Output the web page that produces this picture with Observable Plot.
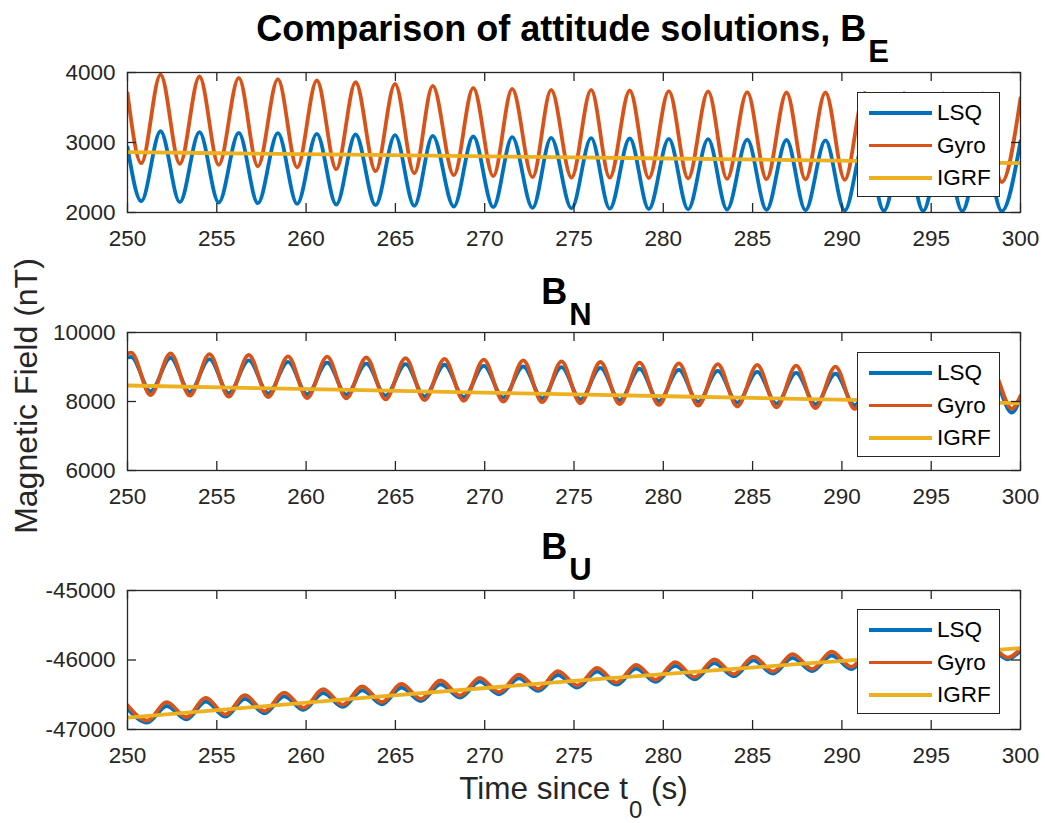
<!DOCTYPE html>
<html>
<head>
<meta charset="utf-8">
<script src="https://cdn.jsdelivr.net/npm/d3@7"></script>
<script src="https://cdn.jsdelivr.net/npm/@observablehq/plot@0.6"></script>
<style>
  html, body { margin: 0; padding: 0; background: #fff; }
  #root { position: relative; width: 1045px; height: 823px; background: #fff; overflow: hidden;
          font-family: "Liberation Sans", Arial, Helvetica, sans-serif; color: #262626; }
  .title { position: absolute; width: 893px; text-align: center; font-weight: bold;
           font-size: 36px; line-height: 36px; color: #000; white-space: nowrap; }
  .title .sub { font-size: 31px; position: relative; top: 21px; margin-left: 2px; }
  .legend { position: absolute; width: 141px; height: 103px; background: #fff; border: 1.3px solid #262626; }
  .legend .sw { position: absolute; left: 11px; width: 63px; height: 3.8px; }
  .legend .lb { position: absolute; left: 79px; font-size: 22.5px; line-height: 26px; height: 26px; color: #000; white-space: nowrap; }
</style>
</head>
<body>
<div id="root"></div>
<script>
// ---------------- data ----------------
const xTicks = [250, 255, 260, 265, 270, 275, 280, 285, 290, 295, 300];
const seriesNames = ["LSQ", "Gyro", "IGRF"];
const seriesColors = ["#0072BD", "#D95319", "#EDB120"];

// Panel B_E : times of start, extrema and end (s)
const beTime = [250, 250.77, 251.85, 252.93, 254.03, 255.11, 256.23, 257.30, 258.42, 259.50, 260.60,
  261.69, 262.77, 263.89, 264.98, 266.06, 267.09, 268.27, 269.36, 270.48, 271.54, 272.68, 273.72,
  274.86, 275.96, 277.00, 278.12, 279.19, 280.31, 281.39, 282.51, 283.57, 284.70, 285.78, 286.90,
  287.96, 289.08, 290.16, 291.27, 292.35, 293.48, 294.55, 295.67, 296.74, 297.87, 298.95, 300];
const beLSQ = [2933, 2161, 3161, 2147, 3147, 2143, 3138, 2133, 3133, 2124, 3124, 2114, 3114, 2104, 3104,
  2096, 3096, 2086, 3086, 2076, 3076, 2067, 3067, 2060, 3062, 2055, 3057, 2050, 3052, 2046, 3047, 2042,
  3040, 2038, 3036, 2034, 3030, 2030, 3025, 2027, 3020, 2024, 3015, 2021, 3010, 2020, 3020];
const beGyro = [3704, 2704, 3971, 2696, 3943, 2681, 3924, 2661, 3904, 2643, 3886, 2619, 3861, 2590, 3838,
  2561, 3810, 2533, 3781, 2519, 3767, 2504, 3752, 2500, 3752, 2497, 3743, 2493, 3733, 2486, 3729, 2481,
  3719, 2476, 3714, 2471, 3714, 2467, 3710, 2460, 3705, 2455, 3700, 2450, 3700, 2435, 3634];
const beIgrfTime = [250, 262.5, 275, 287.5, 300];
const beIgrf = [2862, 2826, 2788, 2748, 2705];
const beTicks = [2000, 3000, 4000];

// Panel B_N
const bnTime = [250, 250.21, 251.29, 252.41, 253.49, 254.59, 255.67, 256.79, 257.88, 258.99, 260.06,
  261.18, 262.25, 263.37, 264.45, 265.57, 266.63, 267.75, 268.83, 269.95, 271.04, 272.16, 273.22,
  274.30, 275.36, 276.48, 277.56, 278.67, 279.75, 280.87, 281.95, 283.05, 284.14, 285.26, 286.34,
  287.44, 288.52, 289.64, 290.71, 291.83, 292.89, 294.01, 295.07, 296.19, 297.26, 298.38, 299.52, 300];
const bnLSQ = [9280, 9290, 8295, 9268, 8275, 9230, 8245, 9190, 8235, 9150, 8210, 9125, 8200, 9095, 8170,
  9085, 8150, 9065, 8130, 9035, 8110, 9015, 8090, 8995, 8060, 8975, 8035, 8950, 8010, 8915, 7990, 8885,
  7965, 8860, 7940, 8830, 7920, 8805, 7895, 8790, 7885, 8775, 7880, 8760, 7875, 8745, 7680, 8110];
const bnGyro = [9390, 9415, 8185, 9396, 8170, 9372, 8140, 9348, 8130, 9310, 8100, 9300, 8090, 9275, 8060,
  9260, 8040, 9235, 8020, 9215, 8000, 9190, 7980, 9165, 7950, 9145, 7925, 9125, 7900, 9105, 7880, 9085,
  7855, 9060, 7830, 9040, 7810, 9010, 7785, 8990, 7775, 8970, 7770, 8950, 7765, 8930, 7790, 8170];
const bnIgrfTime = [250, 262.5, 275, 287.5, 300];
const bnIgrf = [8464, 8335, 8207, 8078, 7951];
const bnTicks = [6000, 8000, 10000];

// Panel B_U
const buTime = [250, 251.10, 252.20, 253.29, 254.39, 255.48, 256.58, 257.67, 258.77, 259.86, 260.96,
  262.05, 263.15, 264.24, 265.34, 266.43, 267.53, 268.62, 269.72, 270.81, 271.91, 273.00, 274.10,
  275.19, 276.29, 277.38, 278.48, 279.57, 280.67, 281.76, 282.86, 283.95, 285.05, 286.14, 287.24,
  288.33, 289.43, 290.52, 291.62, 292.71, 293.81, 294.90, 296.00, 297.09, 298.19, 299.28, 300];
const buLSQ = [-46700, -46901, -46662, -46853, -46600, -46814, -46560, -46767, -46522, -46718, -46475,
  -46675, -46436, -46637, -46398, -46590, -46350, -46541, -46310, -46493, -46264, -46445, -46216,
  -46397, -46168, -46355, -46125, -46315, -46085, -46277, -46045, -46235, -46005, -46195, -45970,
  -46160, -45935, -46130, -45905, -46100, -45875, -46070, -45845, -46040, -45815, -45990, -45865];
const buGyro = [-46650, -46871, -46607, -46823, -46544, -46784, -46506, -46737, -46468, -46688, -46420,
  -46645, -46381, -46607, -46343, -46560, -46295, -46511, -46256, -46463, -46209, -46415, -46161,
  -46367, -46113, -46325, -46070, -46285, -46030, -46247, -45990, -46205, -45950, -46165, -45915,
  -46130, -45880, -46100, -45850, -46070, -45820, -46040, -45790, -46010, -45760, -45965, -45835];
const buIgrfTime = [250, 262.5, 275, 287.5, 300];
const buIgrf = [-46830, -46560, -46300, -46060, -45830];
const buTicks = [-47000, -46000, -45000];

// ---------------- drawing ----------------
const root = document.getElementById("root");
const FONT = "'Liberation Sans', Arial, Helvetica, sans-serif";
const AX = "#262626";
const ML = 127, MR = 25, W = 1045, MT = 10, MB = 45;
const innerW = W - ML - MR;

function rows(ts, vs) { return ts.map((t, i) => ({t, v: vs[i]})); }

function panel(frameTop, frameH, yDomain, yTicks, lsqT, lsq, gyroT, gyro, igrfT, igrf) {
  const svg = Plot.plot({
    width: W, height: MT + frameH + MB,
    marginLeft: ML, marginRight: MR, marginTop: MT, marginBottom: MB,
    style: {fontFamily: FONT, fontSize: "22.5px", color: AX, background: "transparent", overflow: "visible"},
    x: {domain: [250, 300]},
    y: {domain: yDomain},
    marks: [
      Plot.line(rows(lsqT, lsq), {x: "t", y: "v", stroke: seriesColors[0], strokeWidth: 3.8, curve: "monotone-x", clip: true}),
      Plot.line(rows(gyroT, gyro), {x: "t", y: "v", stroke: seriesColors[1], strokeWidth: 3.8, curve: "monotone-x", clip: true}),
      Plot.line(rows(igrfT, igrf), {x: "t", y: "v", stroke: seriesColors[2], strokeWidth: 3.8, curve: "natural", clip: true}),
      Plot.frame({stroke: AX, strokeWidth: 1.3}),
      Plot.tickX(xTicks, {x: d => d, insetTop: frameH - 9, stroke: AX, strokeWidth: 1.3}),
      Plot.tickX(xTicks, {x: d => d, insetBottom: frameH - 9, stroke: AX, strokeWidth: 1.3}),
      Plot.tickY(yTicks, {y: d => d, insetRight: innerW - 9, stroke: AX, strokeWidth: 1.3}),
      Plot.tickY(yTicks, {y: d => d, insetLeft: innerW - 9, stroke: AX, strokeWidth: 1.3}),
      Plot.axisX({ticks: xTicks, tickSize: 0, tickPadding: 18, label: null, tickFormat: d => String(d)}),
      Plot.axisY({ticks: yTicks, tickSize: 0, tickPadding: 12, label: null, tickFormat: d => String(d)})
    ]
  });
  svg.style.position = "absolute";
  svg.style.left = "0px";
  svg.style.top = (frameTop - MT) + "px";
  root.appendChild(svg);
}

function legend(left, top) {
  const box = document.createElement("div");
  box.className = "legend";
  box.style.left = left + "px";
  box.style.top = top + "px";
  const rowY = [20, 52.5, 85];
  seriesNames.forEach((name, i) => {
    const sw = document.createElement("div");
    sw.className = "sw";
    sw.style.top = (rowY[i] - 1.9) + "px";
    sw.style.background = seriesColors[i];
    box.appendChild(sw);
    const lb = document.createElement("div");
    lb.className = "lb";
    lb.style.top = (rowY[i] - 13) + "px";
    lb.textContent = name;
    box.appendChild(lb);
  });
  root.appendChild(box);
}

function title(main, sub, baseline, left) {
  const d = document.createElement("div");
  d.className = "title";
  d.style.left = left + "px";
  d.style.top = (baseline - 30.5) + "px";
  d.append(main);
  const s = document.createElement("span");
  s.className = "sub";
  s.textContent = sub;
  d.appendChild(s);
  root.appendChild(d);
}

panel(72, 140, [2000, 4000], beTicks, beTime, beLSQ, beTime, beGyro, beIgrfTime, beIgrf);
panel(332, 138, [6000, 10000], bnTicks, bnTime, bnLSQ, bnTime, bnGyro, bnIgrfTime, bnIgrf);
panel(590, 139, [-47000, -45000], buTicks, buTime, buLSQ, buTime, buGyro, buIgrfTime, buIgrf);

legend(857, 92);
legend(857, 352);
legend(857, 609);

title("Comparison of attitude solutions, B", "E", 41, 126);
title("B", "N", 304, 120);
title("B", "U", 559, 120);

// y label
const yl = document.createElement("div");
yl.style.cssText = "position:absolute;width:500px;height:32px;line-height:32px;font-size:32px;text-align:center;white-space:nowrap;left:-224px;top:380px;transform:rotate(-90deg);color:#262626;";
yl.textContent = "Magnetic Field (nT)";
root.appendChild(yl);

// x label
const xl = document.createElement("div");
xl.style.cssText = "position:absolute;left:127px;width:893px;text-align:center;font-size:31.5px;line-height:24px;top:" + (799 - 23.2) + "px;white-space:nowrap;color:#262626;";
xl.append("Time since t");
const xs = document.createElement("span");
xs.style.cssText = "font-size:24px;position:relative;top:19px;margin-left:1px;";
xs.textContent = "0";
xl.appendChild(xs);
xl.append(" (s)");
root.appendChild(xl);
</script>
</body>
</html>
